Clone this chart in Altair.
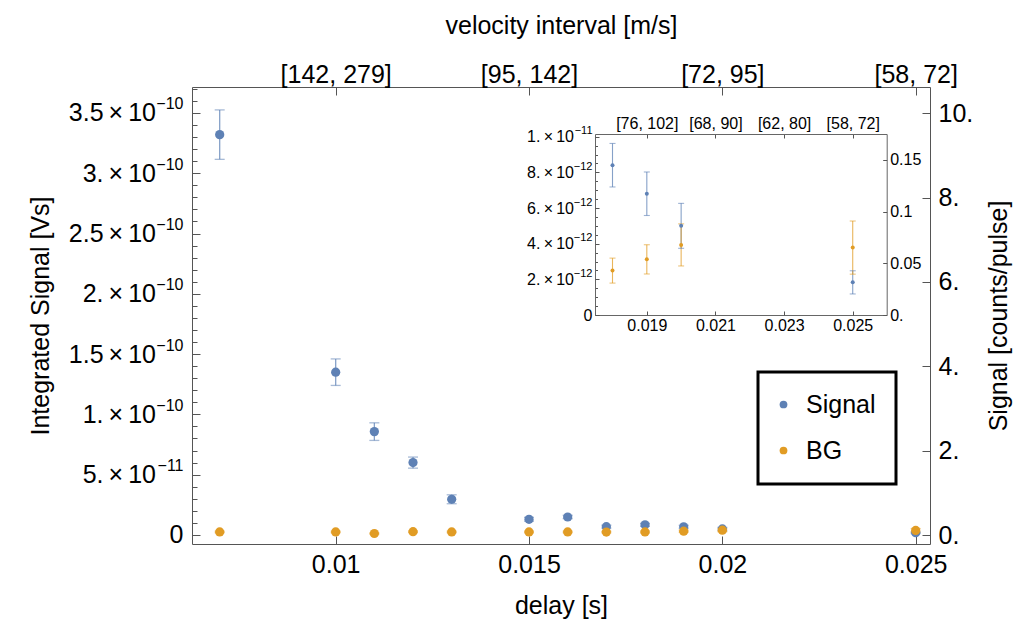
import json
import altair as alt
import pandas as pd

# ---------------- data ----------------
delay = [0.007, 0.010, 0.011, 0.012, 0.013, 0.015, 0.016, 0.017, 0.018, 0.019, 0.020, 0.025]
signal = [3.32e-10, 1.35e-10, 8.57e-11, 6.00e-11, 2.96e-11, 1.30e-11, 1.49e-11,
          6.9e-12, 8.4e-12, 6.8e-12, 5.0e-12, 1.83e-12]
signal_err = [2.05e-11, 1.10e-11, 7.3e-12, 4.6e-12, 3.7e-12, 1.6e-12, 1.4e-12,
              1.2e-12, 1.22e-12, 1.22e-12, 1.26e-12, 0.65e-12]
bg = [2.5e-12, 2.5e-12, 1.2e-12, 2.7e-12, 2.5e-12, 2.5e-12, 2.5e-12,
      2.4e-12, 2.49e-12, 3.12e-12, 3.93e-12, 3.78e-12]
bg_err = [0.6e-12, 0.6e-12, 0.5e-12, 0.6e-12, 0.6e-12, 0.6e-12, 0.6e-12,
          0.6e-12, 0.70e-12, 0.82e-12, 1.18e-12, 1.49e-12]

series_names = ["Signal", "BG"]
series_colors = ["#5e81b5", "#e19c24"]

# axis ticks / labels (mantissa and exponent kept apart so the exponent can be raised)
left_values = [0, 5e-11, 1e-10, 1.5e-10, 2e-10, 2.5e-10, 3e-10, 3.5e-10]
left_mant = ["", "5.", "1.", "1.5", "2.", "2.5", "3.", "3.5"]
left_exp = ["0", "\u221211", "\u221210", "\u221210", "\u221210", "\u221210", "\u221210", "\u221210"]
left_minor = [k * 1e-11 for k in range(0, 38)]
right_values = [0, 2, 4, 6, 8, 10]
right_labels = ["0.", "2.", "4.", "6.", "8.", "10."]
bottom_values = [0.01, 0.015, 0.02, 0.025]
bottom_labels = ["0.01", "0.015", "0.02", "0.025"]
top_labels = ["[142, 279]", "[95, 142]", "[72, 95]", "[58, 72]"]

inset_x_values = [0.019, 0.021, 0.023, 0.025]
inset_x_labels = ["0.019", "0.021", "0.023", "0.025"]
inset_top_labels = ["[76, 102]", "[68, 90]", "[62, 80]", "[58, 72]"]
inset_y_values = [0, 2e-12, 4e-12, 6e-12, 8e-12, 1e-11]
inset_y_mant = ["", "2.", "4.", "6.", "8.", "1."]
inset_y_exp = ["0", "\u221212", "\u221212", "\u221212", "\u221212", "\u221211"]
inset_y_minor = [k * 0.5e-12 for k in range(0, 21)]
inset_r_values = [0, 0.05, 0.1, 0.15]
inset_r_labels = ["0.", "0.05", "0.1", "0.15"]

VS_PER_COUNT_MAIN = 3.5e-11
VS_PER_COUNT_INSET = 5.8e-11

rows = []
for name, vals, errs in (("Signal", signal, signal_err), ("BG", bg, bg_err)):
    for d, v, e in zip(delay, vals, errs):
        rows.append({"delay": d, "series": name, "value": v, "lo": v - e, "hi": v + e,
                     "counts": v / VS_PER_COUNT_MAIN, "counts_inset": v / VS_PER_COUNT_INSET})
df = pd.DataFrame(rows)

# ---------------- layout ----------------
W, H = 738, 457
FONT = "Liberation Sans"
AX = dict(grid=False, labelFlush=False, labelOverlap=False, labelFont=FONT, titleFont=FONT,
          labelColor="black", titleColor="black", tickColor="#555", domainColor="#666",
          titleFontWeight="normal")
TIMES = "\u2009\u00d7\u200910"


def arr_expr(labels, idx):
    return json.dumps(labels, ensure_ascii=False) + "[" + idx + "]"


def mant_expr(labels, idx):
    return ("(" + arr_expr(labels, idx) + " == '') ? '' : " + arr_expr(labels, idx)
            + " + '" + TIMES + "'")


def cond(test, a, b):
    return {"condition": {"test": test, "value": a}, "value": b}


main_x = alt.Scale(domain=[0.006284, 0.02537], zero=False, nice=False)
main_y = alt.Scale(domain=[-0.075e-10, 3.715e-10], zero=False, nice=False)
main_r = alt.Scale(domain=[-0.213, 10.62], zero=False, nice=False)

IX0, IX1, IYB, IYT = 403, 694.7, 228, 47
inset_x = alt.Scale(domain=[0.01749, 0.02599], range=[IX0, IX1], zero=False, nice=False)
inset_y = alt.Scale(domain=[0, 1.015e-11], range=[IYB, IYT], zero=False, nice=False)
inset_r = alt.Scale(domain=[0, 0.175], range=[IYB, IYT], zero=False, nice=False)
color_scale = alt.Scale(domain=series_names, range=series_colors)

TS = 8
EXP_W = 27.5  # width of a 16px "−10" exponent
ax_left_exp = alt.Axis(orient="left", values=left_values,
                       labelExpr=arr_expr(left_exp, "round(datum.value / 5e-11)"),
                       labelFontSize=cond("datum.value == 0", 25, 16),
                       labelOffset=cond("datum.value == 0", 0, -9),
                       offset=-TS, tickSize=TS, domain=False, labelPadding=9,
                       title="Integrated Signal [Vs]", titleFontSize=25, titleAngle=270,
                       titleX=-160, titleY=H / 2, titleAlign="center", titleBaseline="middle", **AX)
ax_left_mant = alt.Axis(orient="left", values=left_values,
                        labelExpr=mant_expr(left_mant, "round(datum.value / 5e-11)"),
                        labelFontSize=25, offset=-TS, tickSize=TS, tickOpacity=0, domain=False,
                        labelPadding=9 + EXP_W, title=None, **AX)
ax_left_minor = alt.Axis(orient="left", values=left_minor, offset=-5, tickSize=5, domain=False,
                         labels=False, title=None, **AX)
ax_bottom = alt.Axis(orient="bottom", values=bottom_values,
                     labelExpr=arr_expr(bottom_labels, "round((datum.value - 0.01) / 0.005)"),
                     offset=-TS, tickSize=TS, domain=False, labelPadding=8, labelFontSize=25,
                     title="delay [s]", titleFontSize=25, titleX=W / 2, titleY=69,
                     titleAlign="center", titleBaseline="middle", **AX)
ax_top = alt.Axis(orient="top", values=bottom_values,
                  labelExpr=arr_expr(top_labels, "round((datum.value - 0.01) / 0.005)"),
                  offset=-TS, tickSize=TS, domain=False, labelPadding=0, labelFontSize=25,
                  title="velocity interval [m/s]", titleFontSize=25, titleX=W / 2, titleY=-70,
                  titleAlign="center", titleBaseline="middle", **AX)
ax_right = alt.Axis(orient="right", values=right_values,
                    labelExpr=arr_expr(right_labels, "round(datum.value / 2)"),
                    offset=-TS, tickSize=TS, domain=False, labelPadding=8, labelFontSize=25,
                    title="Signal [counts/pulse]", titleFontSize=25, titleAngle=270,
                    titleX=76, titleY=H / 2, titleAlign="center", titleBaseline="middle", **AX)

ITS = 4
IEXP_W = 18.5  # width of an 11px "−12" exponent
in_left_exp = alt.Axis(orient="left", values=inset_y_values,
                       labelExpr=arr_expr(inset_y_exp, "round(datum.value / 2e-12)"),
                       labelFontSize=cond("datum.value == 0", 16, 11),
                       labelOffset=cond("datum.value == 0", 0, -6),
                       offset=-(IX0 + ITS), tickSize=ITS, domain=False, labelPadding=3,
                       title=None, **AX)
in_left_mant = alt.Axis(orient="left", values=inset_y_values,
                        labelExpr=mant_expr(inset_y_mant, "round(datum.value / 2e-12)"),
                        labelFontSize=16, offset=-(IX0 + ITS), tickSize=ITS, tickOpacity=0,
                        domain=False, labelPadding=3 + IEXP_W, title=None, **AX)
in_left_minor = alt.Axis(orient="left", values=inset_y_minor, offset=-(IX0 + 2.5), tickSize=2.5,
                         domain=False, labels=False, title=None, **AX)
in_bottom = alt.Axis(orient="bottom", values=inset_x_values,
                     labelExpr=arr_expr(inset_x_labels, "round((datum.value - 0.019) / 0.002)"),
                     offset=-(H - IYB + ITS), tickSize=ITS, domain=False, labelPadding=2,
                     labelFontSize=16, title=None, **AX)
in_top = alt.Axis(orient="top", values=inset_x_values,
                  labelExpr=arr_expr(inset_top_labels, "round((datum.value - 0.019) / 0.002)"),
                  offset=-(IYT + ITS), tickSize=ITS, domain=False, labelPadding=3,
                  labelFontSize=16, title=None, **AX)
in_right = alt.Axis(orient="right", values=inset_r_values,
                    labelExpr=arr_expr(inset_r_labels, "round(datum.value / 0.05)"),
                    offset=-(W - IX1 + ITS), tickSize=ITS, domain=False, labelPadding=3,
                    labelFontSize=16, title=None, **AX)
FR = dict(domain=True, ticks=False, labels=False, title=None, **AX)
fr_left = alt.Axis(orient="left", offset=-IX0, **FR)
fr_right = alt.Axis(orient="right", offset=-(W - IX1), **FR)
fr_top = alt.Axis(orient="top", offset=-IYT, **FR)
fr_bottom = alt.Axis(orient="bottom", offset=-(H - IYB), **FR)

col_nolegend = alt.Color("series:N", scale=color_scale, legend=None)
base = alt.Chart(df)

# ---------------- main plot ----------------
m_rules = base.mark_rule(strokeWidth=1.3, opacity=0.75).encode(
    x=alt.X("delay:Q", scale=main_x, axis=ax_bottom),
    y=alt.Y("lo:Q", scale=main_y, axis=ax_left_exp), y2="hi:Q", color=col_nolegend)
m_cap_lo = base.mark_tick(orient="horizontal", size=10, thickness=1.3, opacity=0.55).encode(
    x=alt.X("delay:Q", scale=main_x, axis=ax_top),
    y=alt.Y("lo:Q", scale=main_y, axis=ax_left_minor), color=col_nolegend)
m_cap_hi = base.mark_tick(orient="horizontal", size=10, thickness=1.3, opacity=0.55).encode(
    x=alt.X("delay:Q", scale=main_x, axis=None),
    y=alt.Y("hi:Q", scale=main_y, axis=ax_left_mant), color=col_nolegend)
m_points = base.mark_circle(size=85, opacity=1).encode(
    x=alt.X("delay:Q", scale=main_x, axis=None),
    y=alt.Y("value:Q", scale=main_y, axis=None),
    color=alt.Color("series:N", scale=color_scale, sort=series_names,
                    legend=alt.Legend(title=None, orient="none", legendX=566, legendY=285,
                                      strokeColor="black", fillColor="white", padding=20,
                                      labelFont=FONT, labelFontSize=25, labelColor="black",
                                      symbolSize=60, symbolType="circle", symbolStrokeWidth=0,
                                      symbolOffset=-7, labelOffset=10, rowPadding=20)))
m_right = base.mark_point(opacity=0).encode(
    x=alt.X("delay:Q", scale=main_x, axis=None),
    y=alt.Y("counts:Q", scale=main_r, axis=ax_right))

# ---------------- inset ----------------
ib = base.transform_filter(alt.datum.delay >= 0.0175)
i_points = ib.mark_circle(size=16, opacity=1).encode(
    x=alt.X("delay:Q", scale=inset_x, axis=in_bottom),
    y=alt.Y("value:Q", scale=inset_y, axis=in_left_exp), color=col_nolegend)
i_rules = ib.mark_rule(strokeWidth=1.1, opacity=0.75).encode(
    x=alt.X("delay:Q", scale=inset_x, axis=in_top),
    y=alt.Y("lo:Q", scale=inset_y, axis=in_left_minor), y2="hi:Q", color=col_nolegend)
i_cap_lo = ib.mark_tick(orient="horizontal", size=6, thickness=1.1, opacity=0.6).encode(
    x=alt.X("delay:Q", scale=inset_x, axis=fr_bottom),
    y=alt.Y("lo:Q", scale=inset_y, axis=fr_left), color=col_nolegend)
i_cap_hi = ib.mark_tick(orient="horizontal", size=6, thickness=1.1, opacity=0.6).encode(
    x=alt.X("delay:Q", scale=inset_x, axis=fr_top),
    y=alt.Y("hi:Q", scale=inset_y, axis=fr_right), color=col_nolegend)
i_mant = ib.mark_point(opacity=0).encode(
    x=alt.X("delay:Q", scale=inset_x, axis=None),
    y=alt.Y("value:Q", scale=inset_y, axis=in_left_mant))
i_right = ib.mark_point(opacity=0).encode(
    x=alt.X("delay:Q", scale=inset_x, axis=None),
    y=alt.Y("counts_inset:Q", scale=inset_r, axis=in_right))

chart = alt.layer(
    m_rules, m_cap_lo, m_cap_hi, m_points, m_right,
    i_rules, i_cap_lo, i_cap_hi, i_points, i_mant, i_right,
).resolve_scale(x="independent", y="independent").resolve_legend(color="independent").properties(
    width=W, height=H,
    autosize=alt.AutoSizeParams(type="none"),
    padding={"left": 192, "top": 87, "right": 1031 - 192 - W, "bottom": 621 - 87 - H},
    background="white",
).configure_view(stroke="#555", strokeWidth=1).configure_legend(strokeWidth=3)

chart.save("out.html", embed_options={"renderer": "svg", "actions": False})
